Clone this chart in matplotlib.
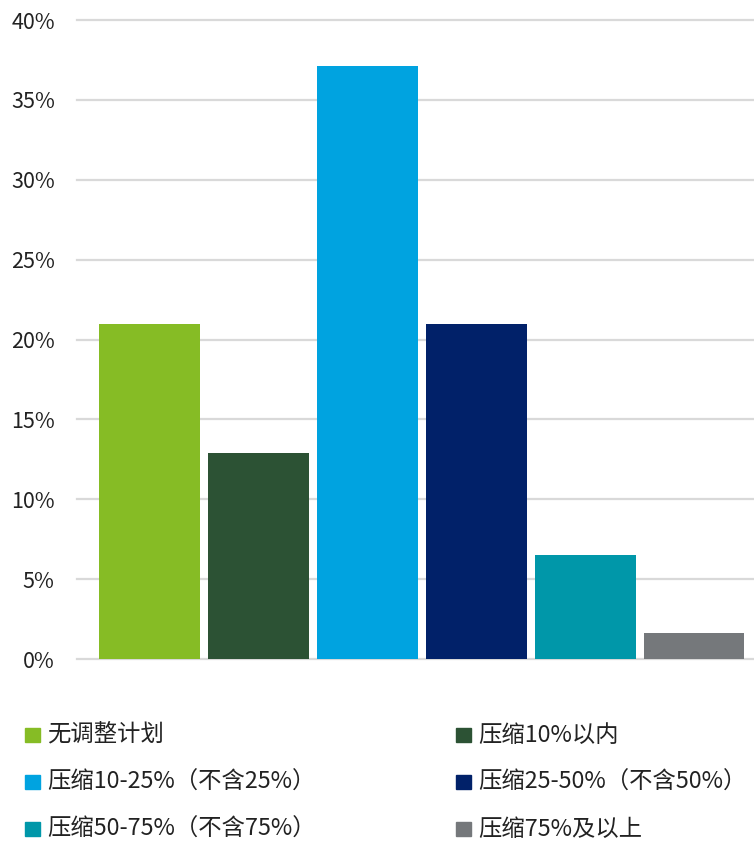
import matplotlib.pyplot as plt
from matplotlib.patches import Rectangle
import numpy as np

plt.rcParams['font.family'] = ['Noto Sans CJK SC', 'DejaVu Sans']

labels = ['无调整计划', '压缩10%以内', '压缩10-25%（不含25%）',
          '压缩25-50%（不含50%）', '压缩50-75%（不含75%）', '压缩75%及以上']
values = [21.0, 12.9, 37.1, 21.0, 6.5, 1.6]
colors = ['#86BC25', '#2C5234', '#00A3E0', '#012169', '#0097A9', '#75787B']
yticks = [0, 5, 10, 15, 20, 25, 30, 35, 40]

W, H = 754, 842
fig = plt.figure(figsize=(W / 100, H / 100), dpi=100)
ax = fig.add_axes([77 / W, 183 / H, 1 - 77 / W, 639 / H])

x = np.arange(len(values))
ax.bar(x, values, width=0.927, color=colors, zorder=3)

ax.set_xlim(-0.666, 5.551)
ax.set_ylim(0, 40)
ax.set_yticks(yticks)
ax.set_yticklabels([f'{t}%' for t in yticks], fontsize=15.5, color='#222222')
ax.set_xticks([])
ax.tick_params(axis='y', length=0, pad=16)
for t in yticks:
    ax.axhline(t, color='#d9d9d9', lw=1.6, zorder=1, clip_on=False)
for s in ax.spines.values():
    s.set_visible(False)

# legend, two columns, filled row by row
rows_y = [735, 782, 829]
cols_x = [25, 456]
for i, (lab, c) in enumerate(zip(labels, colors)):
    r, k = divmod(i, 2)
    px, py = cols_x[k], rows_y[r]
    fig.patches.append(Rectangle((px / W, 1 - (py + 7) / H), 15 / W, 14 / H,
                                 transform=fig.transFigure, color=c))
    fig.text((px + 22) / W, 1 - py / H, lab, fontsize=16.8, va='center',
             ha='left', color='#222222')

fig.savefig('out.png', dpi=100)
